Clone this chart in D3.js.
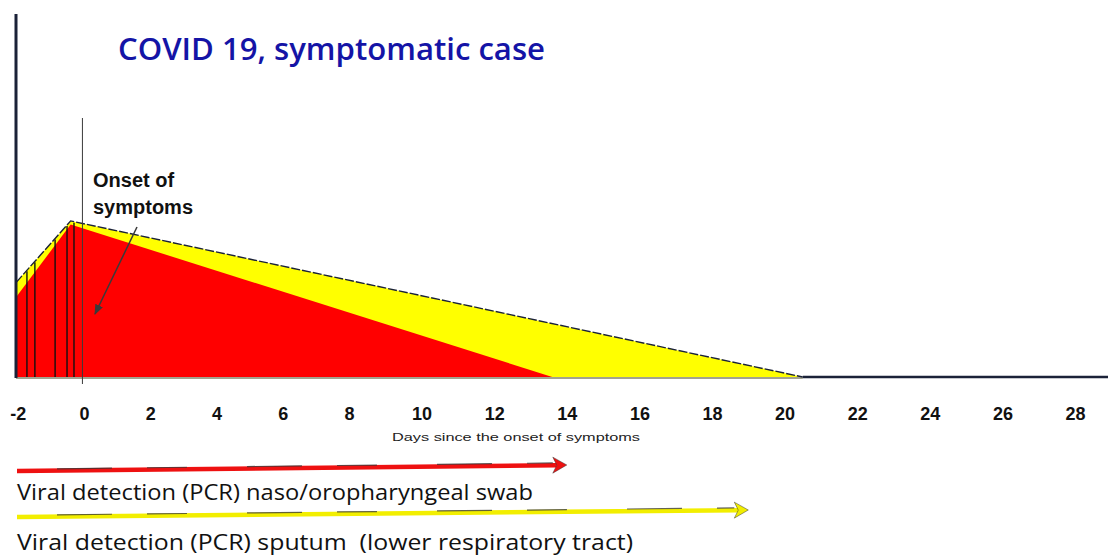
<!DOCTYPE html>
<html>
<head>
<meta charset="utf-8">
<script src="https://cdn.jsdelivr.net/npm/d3@7"></script>
<style>
  html, body { margin: 0; padding: 0; background: #fff; }
  svg { display: block; }
</style>
</head>
<body>
<svg id="chart" width="1108" height="556"></svg>
<script>
// Tick days along the time axis
const tickDays = [-2, 0, 2, 4, 6, 8, 10, 12, 14, 16, 18, 20, 22, 24, 26, 28];

// Relative viral load (arbitrary units) by day since symptom onset
const sputumLoad = [
  { day: -2.05, v: 26 },
  { day: -0.4,  v: 43 },
  { day: 20.5,  v: 0 }
];
const swabLoad = [
  { day: -2.05, v: 22 },
  { day: -0.4,  v: 42 },
  { day: 13.6,  v: 0 }
];

// Thin hatch strokes in the pre-symptomatic part
const hatchDays = [-1.72, -1.48, -0.87, -0.51, -0.30];

// Detection windows (last day detected)
const swabDetectionEnd = 14;
const sputumDetectionEnd = 19;

const titleText = "COVID 19, symptomatic case";
const axisTitle = "Days since the onset of symptoms";
const onsetLabel = ["Onset of", "symptoms"];
const swabLabel = "Viral detection (PCR) naso/oropharyngeal swab";
const sputumLabel = "Viral detection (PCR) sputum  (lower respiratory tract)";

const svg = d3.select("#chart");
svg.append("rect").attr("width", 1108).attr("height", 556).attr("fill", "#fff");

// Time axis spacing widens slightly after day 8
const x = d3.scaleLinear().domain([-2.05, 8, 28]).range([16, 349, 1075]);
const y = d3.scaleLinear().domain([0, 100]).range([377, 14]);

// Baseline: grey under the shaded area, dark beyond it
svg.append("line")
  .attr("x1", x(-2.05)).attr("x2", x(20.5))
  .attr("y1", y(0) + 1).attr("y2", y(0) + 1)
  .attr("stroke", "#a3a38f").attr("stroke-width", 2);
svg.append("line")
  .attr("x1", x(20.5)).attr("x2", 1108)
  .attr("y1", y(0)).attr("y2", y(0))
  .attr("stroke", "#1b2238").attr("stroke-width", 2.5);

const area = d3.area()
  .x(d => x(d.day))
  .y0(y(0))
  .y1(d => y(d.v));

svg.append("path").datum(sputumLoad).attr("d", area).attr("fill", "#ffff00");
svg.append("path").datum(swabLoad).attr("d", area).attr("fill", "#ff0000");

// Hatch strokes from the upper edge down to the baseline
const sputumAt = d3.scaleLinear()
  .domain(sputumLoad.map(d => d.day))
  .range(sputumLoad.map(d => d.v));
svg.append("g").selectAll("line").data(hatchDays).join("line")
  .attr("x1", d => x(d)).attr("x2", d => x(d))
  .attr("y1", d => y(sputumAt(d)) + 1).attr("y2", y(0))
  .attr("stroke", "#111").attr("stroke-width", 1.4);

// Outline of the sputum curve
svg.append("path").datum(sputumLoad)
  .attr("d", d3.line().x(d => x(d.day)).y(d => y(d.v)))
  .attr("fill", "none")
  .attr("stroke", "#1b2238").attr("stroke-width", 1.4)
  .attr("stroke-dasharray", "9,2");

// Y axis
svg.append("line")
  .attr("x1", x(-2.05)).attr("x2", x(-2.05))
  .attr("y1", y(100)).attr("y2", y(0) + 1)
  .attr("stroke", "#1b2238").attr("stroke-width", 3);

// Onset of symptoms marker
svg.append("line")
  .attr("x1", x(0) - 1.5).attr("x2", x(0) - 1.5)
  .attr("y1", 118).attr("y2", 384)
  .attr("stroke", "#3a3a3a").attr("stroke-width", 1);

// Day labels
const axis = d3.axisBottom(x)
  .tickValues(tickDays)
  .tickSize(0)
  .tickPadding(30)
  .tickFormat(d => String(d));
const gAxis = svg.append("g").attr("transform", `translate(0,${y(0)})`).call(axis);
gAxis.select(".domain").remove();
gAxis.selectAll("text")
  .attr("font-family", "Liberation Sans, Arial, sans-serif")
  .attr("font-weight", "bold")
  .attr("font-size", 18)
  .attr("fill", "#111");

svg.append("text")
  .attr("x", 392).attr("y", 441)
  .attr("font-family", "Liberation Sans, Arial, sans-serif")
  .attr("font-size", 11)
  .attr("textLength", 248).attr("lengthAdjust", "spacingAndGlyphs")
  .attr("fill", "#222")
  .text(axisTitle);

// Title
svg.append("text")
  .attr("x", 118).attr("y", 60)
  .attr("font-family", "Open Sans, sans-serif")
  .attr("font-size", 30)
  .attr("font-weight", 600)
  .attr("textLength", 427).attr("lengthAdjust", "spacingAndGlyphs")
  .attr("fill", "#1414a6")
  .text(titleText);

// Onset annotation
svg.append("text")
  .attr("font-family", "Liberation Sans, Arial, sans-serif")
  .attr("font-weight", "bold")
  .attr("font-size", 20)
  .attr("fill", "#111")
  .selectAll("tspan").data(onsetLabel).join("tspan")
  .attr("x", 93)
  .attr("y", (d, i) => 187 + i * 27)
  .text(d => d);

const defs = svg.append("defs");
defs.append("marker")
  .attr("id", "pointer")
  .attr("viewBox", "0 0 10 10")
  .attr("refX", 9).attr("refY", 5)
  .attr("markerWidth", 7).attr("markerHeight", 7)
  .attr("orient", "auto")
  .append("path")
  .attr("d", "M0,1 L10,5 L0,9 z")
  .attr("fill", "#3a3a3a");

svg.append("line")
  .attr("x1", 137).attr("y1", 227)
  .attr("x2", 95).attr("y2", 314)
  .attr("stroke", "#3a3a3a").attr("stroke-width", 1.5)
  .attr("marker-end", "url(#pointer)");

// Detection window arrows
function detectionArrow(endDay, yStart, yEnd, fill, edge) {
  const x0 = x(-2.05) + 1;
  const tip = x(endDay);
  const back = tip - 14;
  const slope = (yEnd - yStart) / (tip - x0);
  const yb = yStart + (back - x0) * slope;
  const g = svg.append("g");
  g.append("line")
    .attr("x1", x0).attr("y1", yStart)
    .attr("x2", back + 4).attr("y2", yb)
    .attr("stroke", fill).attr("stroke-width", 4.5);
  g.append("line")
    .attr("x1", x0 + 40).attr("y1", yStart - 2.2)
    .attr("x2", back).attr("y2", yb - 2.2)
    .attr("stroke", edge).attr("stroke-width", 1.2)
    .attr("stroke-dasharray", "55,35,40,60")
    .attr("opacity", 0.75);
  g.append("path")
    .attr("d", `M${back},${yb - 8} L${tip},${yEnd} L${back},${yb + 8} L${back + 4},${yb} Z`)
    .attr("fill", fill)
    .attr("stroke", edge).attr("stroke-width", 0.8).attr("stroke-opacity", 0.6);
}
detectionArrow(swabDetectionEnd, 471, 465, "#ee1111", "#333");
detectionArrow(sputumDetectionEnd, 517, 510, "#f2ee00", "#333");

const labelFont = "Open Sans, sans-serif";
svg.append("text")
  .attr("x", 17).attr("y", 500)
  .attr("font-family", labelFont).attr("font-size", 21).attr("font-weight", 500)
  .attr("textLength", 516).attr("lengthAdjust", "spacingAndGlyphs")
  .attr("fill", "#111")
  .text(swabLabel);
svg.append("text")
  .attr("x", 17).attr("y", 550)
  .attr("font-family", labelFont).attr("font-size", 21).attr("font-weight", 500)
  .attr("textLength", 616).attr("lengthAdjust", "spacingAndGlyphs")
  .attr("fill", "#111")
  .style("white-space", "pre")
  .text(sputumLabel);
</script>
</body>
</html>
